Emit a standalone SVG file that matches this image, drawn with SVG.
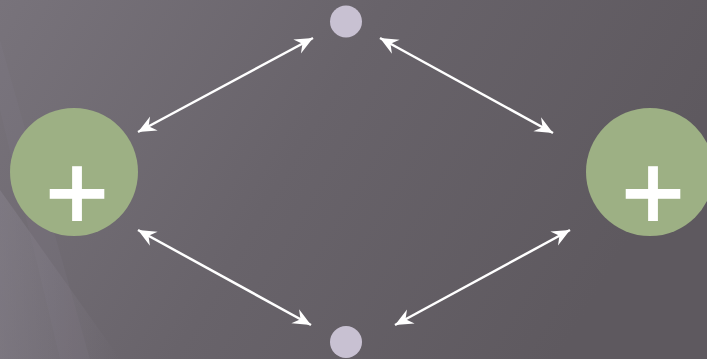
<svg xmlns="http://www.w3.org/2000/svg" width="707" height="359" viewBox="0 0 707 359">
  <defs>
    <linearGradient id="bg" x1="0" y1="0" x2="1" y2="0.3">
      <stop offset="0" stop-color="#78737b"/>
      <stop offset="0.5" stop-color="#68636a"/>
      <stop offset="1" stop-color="#5e595f"/>
    </linearGradient>
    <linearGradient id="streak" x1="0" y1="0" x2="1" y2="0">
      <stop offset="0" stop-color="#8a8590" stop-opacity="0.45"/>
      <stop offset="1" stop-color="#8a8590" stop-opacity="0"/>
    </linearGradient>
    <marker id="ah" viewBox="-19 -9 20 18" refX="0" refY="0" markerWidth="20" markerHeight="18" markerUnits="userSpaceOnUse" orient="auto-start-reverse">
      <path d="M0,0 L-18,-8 L-12,0 L-18,8 Z" fill="#ffffff"/>
    </marker>
    <style>
      .conn { stroke: #ffffff; stroke-width: 2.5; fill: none; marker-start: url(#ah); marker-end: url(#ah); }
      .big { fill: #9db084; }
      .small { fill: #c8c1d2; }
      .plus { font-family: "Liberation Sans", Arial, sans-serif; font-size: 108px; fill: #ffffff; stroke: #ffffff; stroke-width: 2; text-anchor: middle; }
    </style>
  </defs>
  <rect width="707" height="359" fill="url(#bg)"/>
  <polygon points="0,190 0,359 120,359" fill="url(#streak)"/>
  <polygon points="0,40 0,110 60,359 90,359" fill="#8a8590" opacity="0.12"/>
  <g id="connectors">
    <line class="conn" x1="138" y1="132" x2="313" y2="38"/>
    <line class="conn" x1="380" y1="38" x2="553" y2="133"/>
    <line class="conn" x1="138" y1="230" x2="311" y2="325"/>
    <line class="conn" x1="395" y1="325" x2="570" y2="230"/>
  </g>
  <g id="node-left">
    <circle class="big" cx="74" cy="172" r="64"/>
    <text class="plus" x="77" y="229">+</text>
  </g>
  <g id="node-right">
    <circle class="big" cx="650" cy="172" r="64"/>
    <text class="plus" x="653" y="229">+</text>
  </g>
  <g id="node-top">
    <circle class="small" cx="346" cy="21.5" r="16"/>
  </g>
  <g id="node-bottom">
    <circle class="small" cx="346" cy="342" r="16"/>
  </g>
</svg>
